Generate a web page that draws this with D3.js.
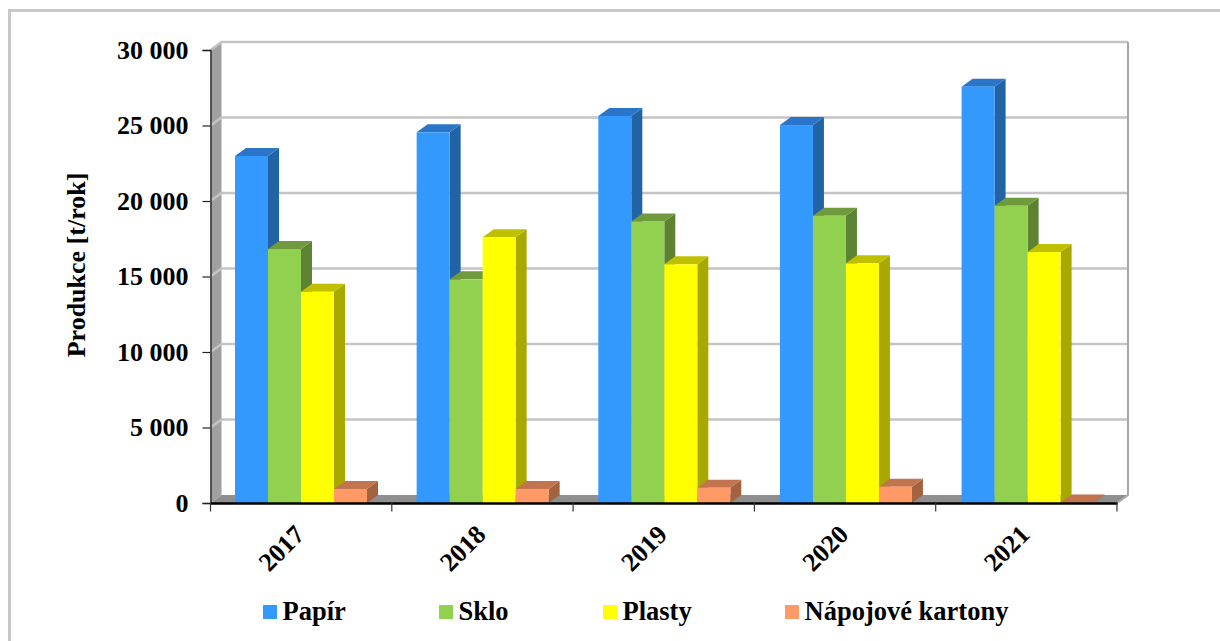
<!DOCTYPE html>
<html>
<head>
<meta charset="utf-8">
<script src="https://cdn.jsdelivr.net/npm/d3@7"></script>
<style>
html,body{margin:0;padding:0;background:#fff}
svg{display:block}
text{font-family:"Liberation Serif",serif;font-weight:bold;fill:#000}
</style>
</head>
<body>
<svg id="chart" width="1220" height="641"></svg>
<script>
// Annual production by material
const years = ["2017", "2018", "2019", "2020", "2021"];
const seriesNames = ["Papír", "Sklo", "Plasty", "Nápojové kartony"];
const papir = [22980, 24550, 25630, 25030, 27570];
const sklo = [16820, 14810, 18650, 19030, 19690];
const plasty = [13990, 17600, 15810, 15870, 16620];
const kartony = [930, 930, 1010, 1080, 30];
const yTicks = [0, 5000, 10000, 15000, 20000, 25000, 30000];
const tickLabels = ["0", "5 000", "10 000", "15 000", "20 000", "25 000", "30 000"];

// front face, side face and top face colours for each series
const frontColors = ["#3399ff", "#92d050", "#ffff00", "#ff9966"];
const topColors = ["#2a75c8", "#6f9a3d", "#c0c000", "#c2744e"];
const sideColors = ["#2263a6", "#5c8232", "#a8a800", "#a5623f"];

const svg = d3.select("#chart");
const depthX = 11, depthY = 8;
const plot = {left: 210.5, right: 1117, top: 50, bottom: 503};

const x = d3.scaleBand().domain(years).range([plot.left, plot.right]);
// bar clusters step slightly wider than the axis categories
const clusterX = d3.scaleBand().domain(years).range([plot.left, plot.left + 5 * 181.65]);
const barGroup = d3.scaleBand().domain(d3.range(4)).range([24.5, 24.5 + 132]);
const y = d3.scaleLinear().domain([0, 30000]).range([plot.bottom, plot.top]);
const values = [papir, sklo, plasty, kartony];

// outer frame
svg.append("path").attr("d", "M9.5,641V10.5H1220")
  .attr("fill", "none").attr("stroke", "#c8c8c8").attr("stroke-width", 3);

const poly = pts => "M" + pts.map(p => p.join(",")).join("L") + "Z";

// side wall and floor
svg.append("path").attr("fill", "#a0a0a0")
  .attr("d", poly([[plot.left, plot.top], [plot.left + depthX, plot.top - depthY],
                   [plot.left + depthX, plot.bottom - depthY], [plot.left, plot.bottom]]));
svg.append("path").attr("fill", "#8f8f8f")
  .attr("d", poly([[plot.left, plot.bottom], [plot.left + depthX, plot.bottom - depthY],
                   [plot.right + depthX, plot.bottom - depthY], [plot.right, plot.bottom]]));

// gridlines along the back wall and across the side wall
const grid = svg.append("g").attr("fill", "none").attr("stroke", "#c4c4c4").attr("stroke-width", 2.4);
yTicks.forEach(t => {
  if (t > 0) {
    grid.append("path").attr("d", `M${plot.left},${y(t)}L${plot.left + depthX},${y(t) - depthY}H${plot.right + depthX}`);
  }
});
svg.append("path").attr("fill", "none").attr("stroke", "#a6a6a6").attr("stroke-width", 2)
  .attr("d", `M${plot.right + depthX},${plot.top - depthY}V${plot.bottom - depthY}L${plot.right},${plot.bottom}`);

// bars, drawn as three faces
years.forEach((yr, i) => {
  values.forEach((vals, s) => {
    const x0 = clusterX(yr) + barGroup(s), x1 = x0 + barGroup.bandwidth();
    const yt = y(vals[i]), yb = y(0);
    const g = svg.append("g");
    g.append("path").attr("fill", sideColors[s])
      .attr("d", poly([[x1, yt], [x1 + depthX, yt - depthY], [x1 + depthX, yb - depthY], [x1, yb]]));
    g.append("path").attr("fill", topColors[s])
      .attr("d", poly([[x0, yt], [x0 + depthX, yt - depthY], [x1 + depthX, yt - depthY], [x1, yt]]));
    g.append("rect").attr("x", x0).attr("y", yt).attr("width", x1 - x0).attr("height", yb - yt)
      .attr("fill", frontColors[s]);
  });
});

// value axis
const yAxis = d3.axisLeft(y).tickValues(yTicks).tickSize(8).tickPadding(14)
  .tickFormat((d, i) => tickLabels[i]);
const yG = svg.append("g").attr("transform", `translate(${plot.left},0)`).call(yAxis);
yG.select(".domain").attr("stroke", "#333").attr("stroke-width", 1.5);
yG.selectAll(".tick line").attr("stroke", "#222").attr("stroke-width", 1.2);
yG.selectAll("text").attr("font-size", 26).attr("font-family", "Liberation Serif").attr("font-weight", "bold");

// category axis
const xAxis = d3.axisBottom(x).tickSize(0).tickFormat("");
const xG = svg.append("g").attr("transform", `translate(0,${plot.bottom})`).call(xAxis);
xG.select(".domain").attr("stroke", "#000").attr("stroke-width", 2.4);
const edges = years.map(yr => x(yr)).concat([plot.right]);
svg.append("g").selectAll("line").data(edges).join("line")
  .attr("x1", d => d).attr("x2", d => d)
  .attr("y1", plot.bottom).attr("y2", plot.bottom + 8.5)
  .attr("stroke", "#333").attr("stroke-width", 1.2);
svg.append("g").selectAll("text").data(years).join("text")
  .attr("font-size", 26).attr("text-anchor", "middle")
  .attr("transform", d => `translate(${x(d) + x.bandwidth() / 2 - 20},${plot.bottom + 45}) rotate(-45)`)
  .attr("dy", "0.35em").text(d => d);

// axis title
svg.append("text").attr("font-size", 26).attr("text-anchor", "middle")
  .attr("transform", "translate(85,265) rotate(-90)").text("Produkce [t/rok]");

// legend
const legendX = [263, 439, 603, 785];
const legend = svg.append("g").selectAll("g").data(seriesNames).join("g")
  .attr("transform", (d, i) => `translate(${legendX[i]},605)`);
legend.append("rect").attr("width", 14).attr("height", 14).attr("fill", (d, i) => frontColors[i]);
legend.append("text").attr("x", 19.5).attr("y", 15).attr("font-size", 26.5).text(d => d);
</script>
</body>
</html>
